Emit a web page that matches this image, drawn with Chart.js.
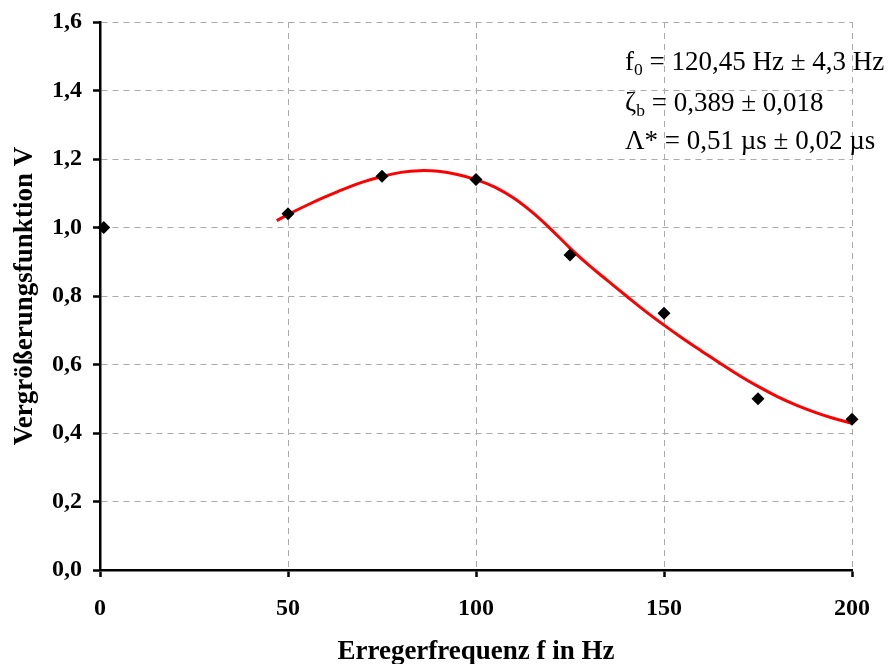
<!DOCTYPE html>
<html>
<head>
<meta charset="utf-8">
<script src="https://cdn.jsdelivr.net/npm/chart.js@4.4.1/dist/chart.umd.min.js"></script>
<style>
html,body{margin:0;padding:0;background:#fff;}
#wrap{width:895px;height:664px;position:relative;}
</style>
</head>
<body>
<div id="wrap"><canvas id="c" width="895" height="664"></canvas></div>
<script>
// Measured data points (frequency in Hz, magnification V)
const measFreq = [1, 50, 75, 100, 125, 150, 175, 200];
const measV    = [1.00, 1.04, 1.15, 1.14, 0.92, 0.75, 0.50, 0.44];

// Fitted curve
const fitFreq = [47, 50, 55, 60, 65, 70, 75, 80, 85, 90, 95, 100, 105, 110, 115, 120, 125, 130, 135, 140, 145, 150, 155, 160, 165, 170, 175, 180, 185, 190, 195, 200];
const fitV    = [1.02, 1.038, 1.065, 1.09, 1.113, 1.133, 1.149, 1.161, 1.166, 1.164, 1.155, 1.140, 1.118, 1.086, 1.044, 0.994, 0.940, 0.890, 0.845, 0.800, 0.756, 0.715, 0.676, 0.639, 0.603, 0.568, 0.536, 0.507, 0.482, 0.461, 0.443, 0.428];

// Tick labels
const xTickLabels = ['0', '50', '100', '150', '200'];
const yTickLabels = ['0,0', '0,2', '0,4', '0,6', '0,8', '1,0', '1,2', '1,4', '1,6'];

// Annotation text
const annoLines = [
  [{t:'f'}, {t:'0', sub:true}, {t:' = 120,45 Hz ± 4,3 Hz'}],
  [{t:'ζ'}, {t:'b', sub:true}, {t:' = 0,389 ± 0,018'}],
  [{t:'Λ* = 0,51 µs ± 0,02 µs'}]
];

const xTitle = 'Erregerfrequenz f in Hz';
const yTitle = 'Vergrößerungsfunktion V';

const SERIF = '"Liberation Serif", "Times New Roman", serif';

const annoPlugin = {
  id: 'anno',
  afterDraw(chart) {
    const ctx = chart.ctx;
    ctx.save();
    ctx.fillStyle = '#000';
    ctx.textBaseline = 'alphabetic';
    const size = 27;
    const baselines = [70, 111, 149];
    annoLines.forEach((line, i) => {
      let x = 625;
      const y = baselines[i];
      line.forEach(seg => {
        if (seg.sub) {
          ctx.font = (size * 0.65) + 'px ' + SERIF;
          ctx.fillText(seg.t, x, y + 5);
        } else {
          ctx.font = size + 'px ' + SERIF;
          ctx.fillText(seg.t, x, y);
        }
        x += ctx.measureText(seg.t).width;
      });
    });
    ctx.restore();
  }
};

const gridCommon = {
  color: '#aaaaaa',
  lineWidth: 1,
  drawTicks: true,
  tickLength: 7,
  tickColor: '#000',
  tickWidth: 2.5,
  tickBorderDash: []
};

const ctx = document.getElementById('c').getContext('2d');
new Chart(ctx, {
  type: 'scatter',
  data: {
    datasets: [
      {
        label: 'Messwerte',
        data: measFreq.map((f, i) => ({x: f, y: measV[i]})),
        pointStyle: 'rectRot',
        pointRadius: 6.5,
        pointBackgroundColor: '#000',
        pointBorderColor: '#000',
        pointBorderWidth: 0,
        showLine: false,
        clip: false
      },
      {
        label: 'Fit',
        data: fitFreq.map((f, i) => ({x: f, y: fitV[i]})),
        showLine: true,
        borderColor: '#ff0000',
        borderWidth: 3,
        pointRadius: 0,
        tension: 0.4,
        fill: false
      }
    ]
  },
  options: {
    responsive: false,
    animation: false,
    devicePixelRatio: 1,
    layout: {padding: {top: 22, right: 43, left: 0, bottom: 0}},
    plugins: {legend: {display: false}, tooltip: {enabled: false}},
    scales: {
      x: {
        type: 'linear',
        min: 0, max: 200,
        afterFit(s) { s.height = 94; },
        afterBuildTicks(s) { s.ticks = xTickLabels.map(v => ({value: Number(v)})); },
        ticks: {
          callback: (v, i) => xTickLabels[i],
          color: '#000',
          font: {family: SERIF, size: 24, weight: 'bold'},
          padding: 17,
          maxRotation: 0
        },
        grid: gridCommon,
        border: {display: true, color: '#000', width: 2.5, dash: [6, 5]},
        title: {
          display: true,
          text: xTitle,
          color: '#000',
          font: {family: SERIF, size: 27, weight: 'bold'},
          padding: {top: 6, bottom: -4}
        }
      },
      y: {
        type: 'linear',
        min: 0, max: 1.6,
        afterFit(s) { s.width = 100; s.paddingTop = 0; s.paddingBottom = 0; },
        afterBuildTicks(s) { s.ticks = yTickLabels.map(v => ({value: Number(v.replace(',', '.'))})); },
        ticks: {
          callback: (v, i) => yTickLabels[i],
          color: '#000',
          font: {family: SERIF, size: 24, weight: 'bold', lineHeight: 1.0},
          padding: 11
        },
        grid: gridCommon,
        border: {display: true, color: '#000', width: 2.5, dash: [6, 5]},
        title: {
          display: true,
          text: yTitle,
          color: '#000',
          font: {family: SERIF, size: 27, weight: 'bold'},
          padding: {top: 9, bottom: 0}
        }
      }
    }
  },
  plugins: [annoPlugin]
});
</script>
</body>
</html>
